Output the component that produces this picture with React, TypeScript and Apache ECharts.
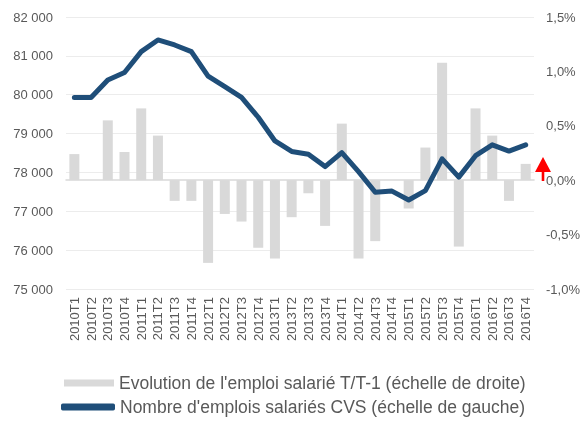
import React, { useEffect, useRef } from "react";
import * as echarts from "echarts";

const categories = [
  "2010T1", "2010T2", "2010T3", "2010T4",
  "2011T1", "2011T2", "2011T3", "2011T4",
  "2012T1", "2012T2", "2012T3", "2012T4",
  "2013T1", "2013T2", "2013T3", "2013T4",
  "2014T1", "2014T2", "2014T3", "2014T4",
  "2015T1", "2015T2", "2015T3", "2015T4",
  "2016T1", "2016T2", "2016T3", "2016T4",
];

// Evolution de l'emploi salarié T/T-1, in %
const evolutionValues = [
  0.24, 0.0, 0.55, 0.26,
  0.66, 0.41, -0.19, -0.19,
  -0.76, -0.31, -0.38, -0.62,
  -0.72, -0.34, -0.12, -0.42,
  0.52, -0.72, -0.56, 0.0,
  -0.26, 0.3, 1.08, -0.61,
  0.66, 0.41, -0.19, 0.15,
];

// Nombre d'emplois salariés CVS
const emploiValues = [
  79930, 79930, 80380, 80570,
  81110, 81410, 81280, 81110,
  80480, 80210, 79930, 79420,
  78810, 78540, 78470, 78150,
  78510, 78020, 77490, 77520,
  77290, 77530, 78350, 77880,
  78430, 78710, 78550, 78710,
];

const barName = "Evolution de l'emploi salarié T/T-1 (échelle de droite)";
const lineName = "Nombre d'emplois salariés CVS (échelle de gauche)";

const FONT = "'Liberation Sans', Arial, sans-serif";
const TEXT = "#595959";

export default function App() {
  const ref = useRef<HTMLDivElement>(null);

  useEffect(() => {
    if (!ref.current) return;
    const chart = echarts.init(ref.current, undefined, { renderer: "svg" });
    chart.setOption({
      animation: false,
      textStyle: { fontFamily: FONT },
      grid: { left: 66, right: 45, top: 17, bottom: 133, containLabel: false },
      legend: [
        {
          orient: "vertical",
          left: 64,
          top: 374,
          padding: 0,
          itemWidth: 50,
          itemHeight: 7,
          symbolKeepAspect: false,
          textStyle: { color: TEXT, fontSize: 17.5, fontFamily: FONT },
          data: [{ name: barName, icon: "rect", itemStyle: { color: "#d9d9d9" } }],
        },
        {
          orient: "vertical",
          left: 61,
          top: 398,
          padding: 0,
          itemWidth: 54,
          itemHeight: 7,
          symbolKeepAspect: false,
          textStyle: { color: TEXT, fontSize: 17.5, fontFamily: FONT },
          data: [{ name: lineName, icon: "roundRect", itemStyle: { color: "#1f4e79" } }],
        },
      ],
      xAxis: {
        type: "category",
        data: categories,
        axisTick: { show: false },
        axisLine: { lineStyle: { color: "#d9d9d9", width: 1.5 } },
        axisLabel: {
          rotate: 90,
          interval: 0,
          margin: 8,
          color: TEXT,
          fontSize: 13,
          fontFamily: FONT,
        },
      },
      yAxis: [
        {
          type: "value",
          min: 75000,
          max: 82000,
          interval: 1000,
          position: "left",
          axisLine: { show: false },
          axisTick: { show: false },
          splitLine: { lineStyle: { color: "#ececec", width: 1.2 } },
          axisLabel: {
            color: TEXT,
            fontSize: 13,
            margin: 13,
            fontFamily: FONT,
            formatter: (v: number) => `${Math.floor(v / 1000)} 000`,
          },
        },
        {
          type: "value",
          min: -1.0,
          max: 1.5,
          interval: 0.5,
          position: "right",
          axisLine: { show: false },
          axisTick: { show: false },
          splitLine: { show: false },
          axisLabel: {
            color: TEXT,
            fontSize: 13,
            margin: 12,
            fontFamily: FONT,
            formatter: (v: number) => v.toFixed(1).replace(".", ",") + "%",
          },
        },
      ],
      series: [
        {
          name: barName,
          type: "bar",
          yAxisIndex: 1,
          data: evolutionValues,
          barWidth: 10,
          itemStyle: { color: "#d9d9d9" },
          z: 1,
        },
        {
          name: lineName,
          type: "line",
          yAxisIndex: 0,
          data: emploiValues,
          showSymbol: false,
          symbol: "none",
          lineStyle: { color: "#1f4e79", width: 5, cap: "round", join: "round" },
          itemStyle: { color: "#1f4e79" },
          z: 3,
        },
      ],
      graphic: [
        {
          type: "polygon",
          shape: { points: [[535, 172], [551, 172], [543, 157]] },
          style: { fill: "#ff0000" },
          z: 10,
        },
        {
          type: "rect",
          shape: { x: 541.7, y: 171, width: 2.6, height: 10 },
          style: { fill: "#ff0000" },
          z: 10,
        },
      ],
    });
    return () => chart.dispose();
  }, []);

  return (
    <div
      ref={ref}
      style={{ position: "fixed", left: 0, top: 0, width: 583, height: 422 }}
    />
  );
}
